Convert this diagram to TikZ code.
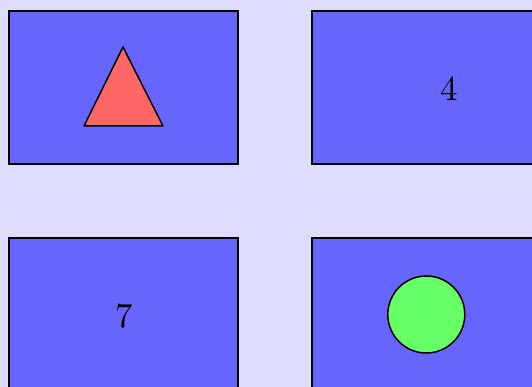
\documentclass[tikz,border=0pt]{standalone}
\usepackage{fontspec}
\newfontfamily\digitfont{lmroman10-regular.otf}
\begin{document}
\begin{tikzpicture}[x=1pt,y=-1pt,
  panel/.style={draw=black,line width=1.5pt,fill=panelblue},
  shapeline/.style={draw=black,line width=1.5pt},
  numlabel/.style={font=\digitfont\fontsize{35}{40}\selectfont,inner sep=0pt}]
\definecolor{bgcol}{HTML}{DDDDFF}
\definecolor{panelblue}{HTML}{6666FF}
\definecolor{tri}{HTML}{FF6666}
\definecolor{circ}{HTML}{66FF66}
\fill[bgcol] (0,0) rectangle (532,387);
\useasboundingbox (0,0) rectangle (532,387);
\begin{scope}
\clip (0,0) rectangle (532,387);
\path[panel] (9,11) rectangle (238,164);
\path[panel] (312,11) rectangle (545,164);
\path[panel] (9,238) rectangle (238,400);
\path[panel] (312,238) rectangle (545,400);
\end{scope}
\coordinate (tA) at (123,47);
\coordinate (tB) at (163,126);
\coordinate (tC) at (84,126);
\path[shapeline,fill=tri,line join=round] (tA) -- (tB) -- (tC) -- cycle;
\node[numlabel] (four) at (449,88.7) {4};
\node[numlabel] (seven) at (124,315.7) {7};
\node[shapeline,fill=circ,circle,minimum size=77pt,inner sep=0pt] (ball) at (426.3,314.5) {};
\end{tikzpicture}
\end{document}
